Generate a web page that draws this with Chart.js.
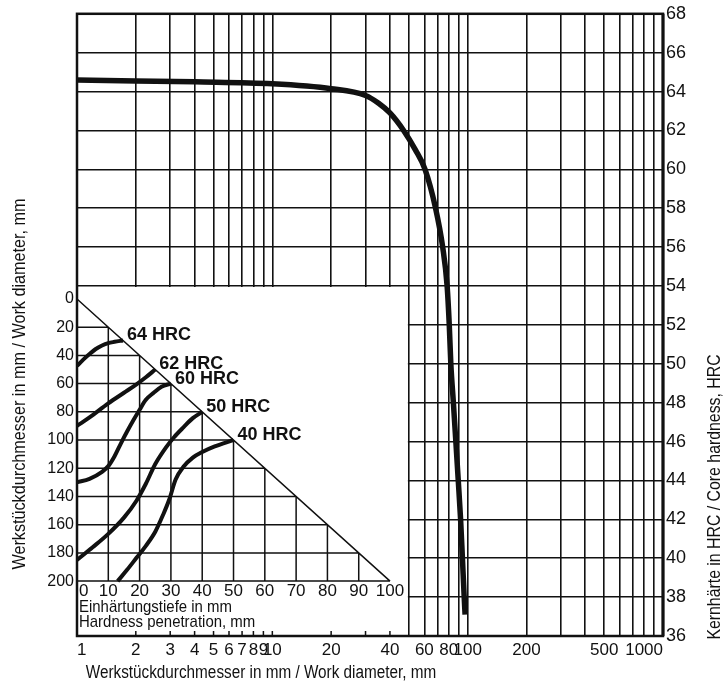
<!DOCTYPE html>
<html>
<head>
<meta charset="utf-8">
<script src="https://cdn.jsdelivr.net/npm/chart.js@4.4.1/dist/chart.umd.min.js"></script>
<style>
  html, body { margin: 0; padding: 0; background: #fff; }
</style>
</head>
<body>
<canvas id="chart" width="725" height="689"></canvas>
<script>
// main curve: work diameter (mm, log axis) -> core hardness (HRC)
const diameterMm = [1, 2, 4, 10, 20, 30, 35, 40, 47, 54, 60.5, 68.5, 74.5, 78.5, 80.5, 82, 84.5, 87, 89.5, 92, 94, 96, 97];
const coreHrc = [64.6, 64.55, 64.5, 64.4, 64.15, 63.8, 63.4, 62.9, 62, 61, 60, 58, 56, 54, 52, 50, 48, 46, 44, 42, 40, 38, 37.1];

const xGrid = [1, 2, 3, 4, 5, 6, 7, 8, 9, 10, 20, 30, 40, 50, 60, 70, 80, 90, 100, 200, 300, 400, 500, 600, 700, 800, 900, 1000];
const xLabels = [1, 2, 3, 4, 5, 6, 7, 8, 9, 10, 20, 40, 60, 80, 100, 200, 500, 1000];

// inset: hardness penetration (mm) vs work diameter (mm)
const depthTicks = [0, 10, 20, 30, 40, 50, 60, 70, 80, 90, 100];
const diaTicks = [0, 20, 40, 60, 80, 100, 120, 140, 160, 180, 200];

const depth64 = [0, 2, 4, 6, 8, 10, 12, 14.7];
const dia64 = [47.5, 43, 39, 35.5, 33, 31.3, 30.4, 29.4];
const depth62 = [0, 4, 10, 15, 19, 22, 25];
const dia62 = [90, 84, 74, 66.5, 60.5, 55.5, 50];
const depth60 = [0, 4, 8, 10, 12, 14, 16, 18, 20, 22, 24.5, 27, 30];
const dia60 = [130, 127.5, 122.5, 118.5, 111.5, 102.5, 94, 86, 78.5, 71.5, 66.5, 62.3, 60];
const depth50 = [0, 5, 10, 15, 19, 22, 25, 28.5, 31, 34, 37, 40];
const dia50 = [185, 176, 166.5, 155, 143, 131, 117, 105, 98, 91, 84.5, 80];
const depth40 = [13, 16, 19, 22, 25, 27.5, 29.5, 31.5, 34, 37, 40, 44, 50];
const dia40 = [200, 192, 183.5, 175, 165, 153, 142, 128, 119, 112.5, 108.5, 104.5, 100];
const insetLabels = ['64 HRC', '62 HRC', '60 HRC', '50 HRC', '40 HRC'];

const insetDiameterMax = 50;   // inset covers diameter 1..50
const insetHrcMax = 54;        // and HRC 36..54
const ink = '#111';
const numFont = "'Liberation Sans', Arial, sans-serif";
const titleFont = "'Liberation Sans', Arial, sans-serif";

const pairs = (xs, ys) => xs.map((v, i) => ({x: v, y: ys[i]}));

const insetSeries = [[depth64, dia64], [depth62, dia62], [depth60, dia60], [depth50, dia50], [depth40, dia40]];

// condensed text: no narrow face installed, so squeeze horizontally
const squeezed = (ctx, text, x, y, angle, sx) => {
	ctx.save();
	ctx.translate(x, y);
	ctx.rotate(angle);
	ctx.scale(sx, 1);
	ctx.fillText(text, 0, 0);
	ctx.restore();
};

const frameAndInset = {
	id: 'frameAndInset',
	beforeDatasetsDraw(chart) {
		const {ctx, scales: {x, y, ix, iy}} = chart;
		const l = x.getPixelForValue(1), r = x.getPixelForValue(insetDiameterMax);
		const t = y.getPixelForValue(insetHrcMax), b = y.getPixelForValue(36);
		ctx.save();
		ctx.fillStyle = '#fff';
		ctx.fillRect(l, t + 1, r - l - 1, b - t - 1);
		ctx.strokeStyle = ink;
		ctx.lineWidth = 1.5;
		ctx.beginPath();
		// short ticks left on the bottom axis under the inset
		xGrid.filter(v => v > 1 && v < insetDiameterMax).forEach(v => {
			const px = x.getPixelForValue(v);
			ctx.moveTo(px, b);
			ctx.lineTo(px, b - 5);
		});
		const dMax = depthTicks[depthTicks.length - 1], wMax = diaTicks[diaTicks.length - 1];
		depthTicks.slice(1).forEach(d => {
			const px = ix.getPixelForValue(d);
			ctx.moveTo(px, iy.getPixelForValue(d * wMax / dMax));
			ctx.lineTo(px, iy.getPixelForValue(wMax));
		});
		diaTicks.slice(1).forEach(w => {
			const py = iy.getPixelForValue(w);
			ctx.moveTo(ix.getPixelForValue(0), py);
			ctx.lineTo(ix.getPixelForValue(w * dMax / wMax), py);
		});
		ctx.moveTo(ix.getPixelForValue(0), iy.getPixelForValue(0));
		ctx.lineTo(ix.getPixelForValue(dMax), iy.getPixelForValue(wMax));
		ctx.stroke();
		ctx.restore();
	},
	afterDraw(chart) {
		const {ctx, chartArea: a, scales: {ix, iy}} = chart;
		ctx.save();
		// frame
		ctx.strokeStyle = ink;
		ctx.lineWidth = 2.5;
		ctx.strokeRect(a.left, a.top, a.right - a.left, a.bottom - a.top);
		ctx.lineWidth = 3;
		ctx.beginPath();
		ctx.moveTo(a.right, a.top);
		ctx.lineTo(a.right, a.bottom);
		ctx.stroke();

		ctx.fillStyle = ink;
		// HRC labels at the curve ends
		ctx.font = "bold 18px " + numFont;
		ctx.textAlign = 'left';
		ctx.textBaseline = 'middle';
		insetSeries.forEach(([ds, ws], i) => {
			const px = ix.getPixelForValue(ds[ds.length - 1]);
			const py = iy.getPixelForValue(ws[ws.length - 1]);
			ctx.fillText(insetLabels[i], px + 4, py - 5);
		});

		// inset axis labels
		const x0 = ix.getPixelForValue(0);
		const yb = iy.getPixelForValue(diaTicks[diaTicks.length - 1]);
		ctx.font = "16px " + numFont;
		ctx.textAlign = 'right';
		diaTicks.forEach(w => ctx.fillText(String(w), x0 - 3, iy.getPixelForValue(w)));
		ctx.font = "17px " + numFont;
		depthTicks.forEach((d, i) => {
			ctx.textAlign = i === 0 ? 'left' : 'center';
			ctx.fillText(String(d), ix.getPixelForValue(d) + (i === 0 ? 2 : 0), yb + 10);
		});
		ctx.font = "17px " + titleFont;
		ctx.textAlign = 'left';
		squeezed(ctx, 'Einhärtungstiefe in mm', x0 + 2, yb + 26, 0, 0.88);
		squeezed(ctx, 'Hardness penetration, mm', x0 + 2, yb + 41, 0, 0.88);

		// axis titles
		ctx.font = "18px " + titleFont;
		ctx.textAlign = 'center';
		squeezed(ctx, 'Werkstückdurchmesser in mm / Work diameter, mm', 261, 673, 0, 0.85);
		squeezed(ctx, 'Werkstückdurchmesser in mm / Work diameter, mm', 20, 384, -Math.PI / 2, 0.9);
		squeezed(ctx, 'Kernhärte in HRC / Core hardness, HRC', 715, 497, -Math.PI / 2, 0.88);
		ctx.restore();
	}
};

const insetDataset = ([ds, ws]) => ({
	data: pairs(ds, ws),
	xAxisID: 'ix',
	yAxisID: 'iy',
	borderColor: ink,
	borderWidth: 4,
	pointRadius: 0,
	cubicInterpolationMode: 'monotone',
	fill: false
});

new Chart(document.getElementById('chart'), {
	type: 'line',
	data: {
		datasets: [{
			data: pairs(diameterMm, coreHrc),
			xAxisID: 'x',
			yAxisID: 'y',
			borderColor: ink,
			borderWidth: 5.5,
			pointRadius: 0,
			cubicInterpolationMode: 'monotone',
			fill: false
		}, ...insetSeries.map(insetDataset)]
	},
	options: {
		responsive: false,
		animation: false,
		layout: { padding: { left: 77, top: 12, right: 0, bottom: 0 } },
		plugins: { legend: { display: false }, tooltip: { enabled: false } },
		scales: {
			x: {
				type: 'logarithmic',
				min: 1,
				max: 1000,
				afterBuildTicks: s => { s.ticks = xGrid.map(v => ({value: v})); },
				afterFit: s => { s.height = 53; },
				grid: { color: ink, lineWidth: 1.6, drawTicks: false },
				border: { display: false },
				ticks: {
					autoSkip: false,
					maxRotation: 0,
					align: 'inner',
					padding: 4,
					color: ink,
					font: { size: 17, family: numFont },
					callback: v => xLabels.includes(v) ? String(v) : ''
				}
			},
			y: {
				type: 'linear',
				position: 'right',
				min: 36,
				max: 68,
				afterFit: s => { s.width = 62; },
				grid: { color: ink, lineWidth: 1.6, drawTicks: false },
				border: { display: false },
				ticks: {
					stepSize: 2,
					padding: 3,
					color: ink,
					font: { size: 18, family: numFont }
				}
			},
			ix: { type: 'linear', display: false, min: 0, max: 187.2 },
			iy: { type: 'linear', display: false, reverse: true, min: -202.1, max: 238.9 }
		}
	},
	plugins: [frameAndInset]
});
</script>
</body>
</html>
